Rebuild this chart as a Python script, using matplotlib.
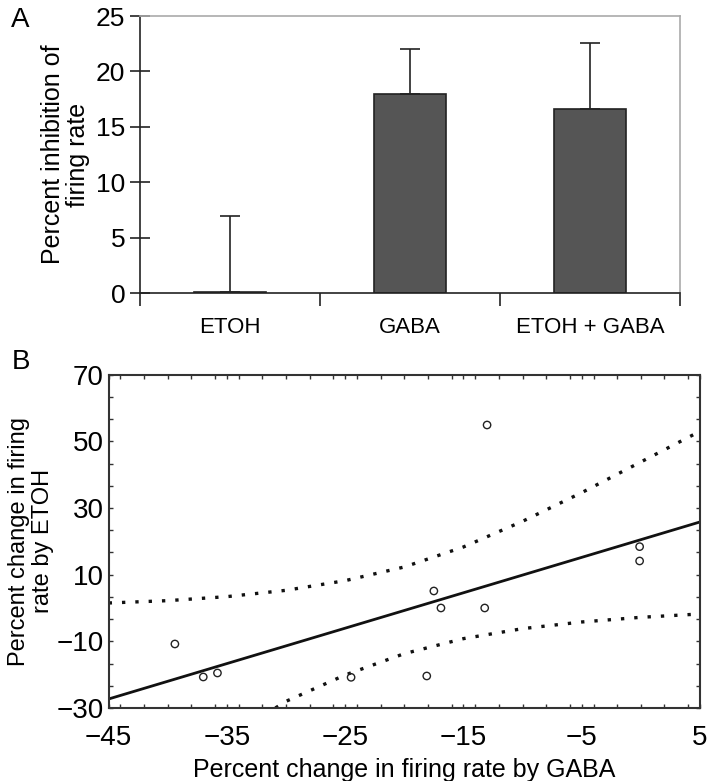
import numpy as np
import matplotlib.pyplot as plt
from matplotlib.ticker import MultipleLocator, AutoMinorLocator

plt.rcParams['font.family'] = ['Liberation Sans', 'DejaVu Sans']

# Panel A data
groups = ['ETOH', 'GABA', 'ETOH + GABA']
inhibition = [0.05, 18.0, 16.6]
inhibition_err = [6.9, 4.0, 6.0]

# Panel B data
gaba_change = [-39.4, -37.0, -35.8, -24.5, -18.1, -17.5, -16.9, -13.2, -13.0, -0.1, -0.1]
etoh_change = [-10.8, -20.7, -19.5, -20.8, -20.4, 5.1, 0.0, 0.0, 54.9, 18.4, 14.1]
fit_x = [-45, 5]
fit_y = [-27.3, 25.8]
upper_x = [-45, -40, -35, -30, -25, -20, -15, -10, -5, 0, 5]
upper_y = [1.5, 2.2, 3.4, 5.3, 8.2, 12.3, 18.3, 26.0, 34.6, 43.8, 53.0]
lower_x = [-30.9, -30, -25, -20, -15, -10, -5, 0, 5]
lower_y = [-30.0, -28.0, -20.1, -13.7, -9.2, -6.2, -4.2, -2.8, -1.8]

fig = plt.figure(figsize=(7.07, 7.81), dpi=100)

# ---- Panel A
ax1 = fig.add_axes([0.198, 0.6248, 0.764, 0.3547])
pos = np.arange(len(groups))
ax1.bar(pos, inhibition, width=0.4, color='#555555', edgecolor='#222222', linewidth=1.2,
        yerr=[[0, 0, 0], inhibition_err], error_kw=dict(ecolor='#222222', elinewidth=1.2,
                                                        capsize=7, capthick=1.2))
ax1.set_xlim(-0.5, 2.5)
ax1.set_ylim(0, 25)
ax1.set_yticks([0, 5, 10, 15, 20, 25])
# category boundaries carry the ticks, names sit in between
ax1.set_xticks([-0.5, 0.5, 1.5, 2.5])
ax1.set_xticklabels([])
ax1.set_xticks(pos, minor=True)
ax1.set_xticklabels(groups, minor=True, fontsize=16)
ax1.tick_params(axis='x', which='major', direction='out', length=9, width=1.2, color='#222222')
ax1.tick_params(axis='x', which='minor', length=0, pad=17)
ax1.tick_params(axis='y', direction='inout', length=14, width=1.2, labelsize=19, color='#222222')
for s in ['top', 'right']:
    ax1.spines[s].set_color('#aaaaaa')
    ax1.spines[s].set_linewidth(1.2)
for s in ['left', 'bottom']:
    ax1.spines[s].set_color('#222222')
    ax1.spines[s].set_linewidth(1.2)
ax1.set_ylabel('Percent inhibition of\nfiring rate', fontsize=18, linespacing=1.1, labelpad=4)
fig.text(0.016, 0.965, 'A', fontsize=20)

# ---- Panel B
ax2 = fig.add_axes([0.1537, 0.0935, 0.8363, 0.4268])
ax2.scatter(gaba_change, etoh_change, s=28, facecolors='none', edgecolors='#222222',
            linewidths=1.0, zorder=3)
ax2.plot(fit_x, fit_y, color='#111111', lw=2.0)
ax2.plot(upper_x, upper_y, color='#111111', lw=2.4, linestyle=(0, (1, 3.0)))
ax2.plot(lower_x, lower_y, color='#111111', lw=2.4, linestyle=(0, (1, 3.0)))
ax2.set_xlim(-45, 5)
ax2.set_ylim(-30, 70)
ax2.set_xticks([-45, -35, -25, -15, -5, 5])
ax2.set_xticklabels(['\u221245', '\u221235', '\u221225', '\u221215', '\u22125', '5'])
ax2.set_yticks([-30, -10, 10, 30, 50, 70])
ax2.set_yticklabels(['\u221230', '\u221210', '10', '30', '50', '70'])
ax2.xaxis.set_minor_locator(MultipleLocator(2))
ax2.yaxis.set_minor_locator(AutoMinorLocator(3))
ax2.tick_params(which='both', direction='in', length=3, width=1.0, color='#333333',
                top=True, right=True, labelsize=20)
ax2.tick_params(axis='x', pad=12)
for s in ax2.spines.values():
    s.set_color('#333333')
    s.set_linewidth(1.5)
ax2.set_xlabel('Percent change in firing rate by GABA', fontsize=18, labelpad=5)
ax2.set_ylabel('Percent change in firing\nrate by ETOH', fontsize=17, linespacing=1.1, labelpad=2)
fig.text(0.016, 0.528, 'B', fontsize=20)

fig.savefig('out.png', dpi=100)
